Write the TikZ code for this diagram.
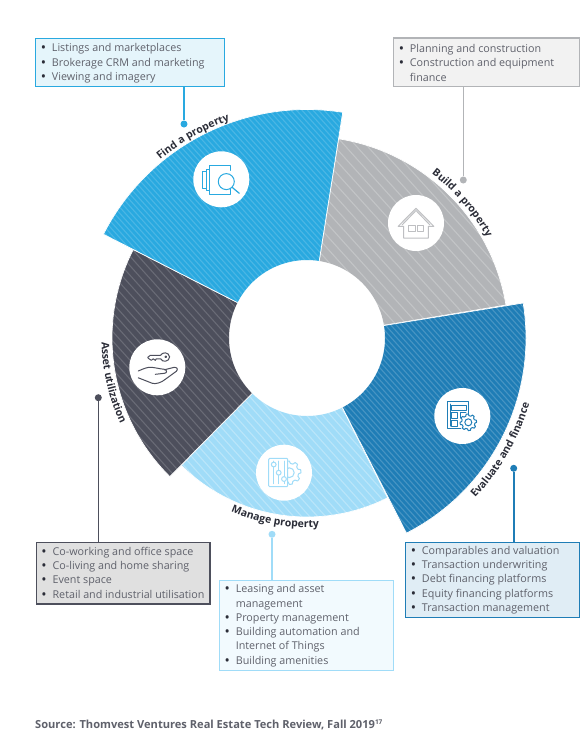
\documentclass[tikz,border=0pt]{standalone}
\usepackage{fontspec}
\setmainfont{Open Sans}
\usetikzlibrary{decorations.text}
\definecolor{cfind}{HTML}{29A9E0}
\definecolor{cbuild}{HTML}{B2B4B7}
\definecolor{ceval}{HTML}{1F7DB6}
\definecolor{cmanage}{HTML}{A0DCF8}
\definecolor{casset}{HTML}{4D4F5C}
\definecolor{ctext}{HTML}{5F616B}
\definecolor{clabel}{HTML}{2B2D38}
\newcommand{\ringsector}[6]{%
  \begin{scope}[shift={(307,-338)}]
    \begin{scope}
      \clip (#2:78pt) -- (#2:#4pt) arc[start angle=#2,end angle=#3,radius=#4pt] -- (#3:78pt) arc[start angle=#3,end angle=#2,radius=78pt] -- cycle;
      \fill[#1] (-300,-300) rectangle (300,300);
      \pgfmathsetmacro{\stripenext}{-620+#5}
      \foreach \t in {-620,\stripenext,...,620} {\draw[white,opacity=#6,line width=1.1pt] (\t,300) -- ++(540,-600);}
    \end{scope}
    \draw[white,line width=.7pt] (#2:78pt) -- (#2:#4pt) arc[start angle=#2,end angle=#3,radius=#4pt] -- (#3:78pt);
  \end{scope}}
\newcommand{\curvedlabel}[4]{% radius, start, end, text
  \path[decorate,decoration={text along path,text align=center,text={|\fontsize{10.5}{12}\bfseries\color{clabel}|#4}}]
    (307,-338) ++(#2:#1pt) arc[start angle=#2,end angle=#3,radius=#1pt];}
\newcommand{\gearicon}[3]{% x, y, radius
  \begin{scope}[shift={(#1,#2)},scale=#3]
    \draw plot[smooth cycle,tension=.15] coordinates {
      (0:1) (15:1) (22:.8) (38:.8) (45:1) (60:1) (67:.8) (83:.8) (90:1) (105:1) (112:.8) (128:.8)
      (135:1) (150:1) (157:.8) (173:.8) (180:1) (195:1) (202:.8) (218:.8) (225:1) (240:1) (247:.8) (263:.8)
      (270:1) (285:1) (292:.8) (308:.8) (315:1) (330:1) (337:.8) (353:.8)};
    \draw (0,0) circle (.42);
  \end{scope}}
\tikzset{
  boxstyle/.style={draw=#1,line width=1.4pt,anchor=north west,align=left,inner sep=0pt,text=ctext,
    font=\fontsize{10.75}{14.25}\selectfont},
  dotstyle/.style={circle,fill=#1,inner sep=0pt,minimum size=7pt},
  linkstyle/.style={draw=#1,line width=1.6pt},
  discstyle/.style={circle,fill=white,inner sep=0pt,minimum size=56pt},
  iconstyle/.style={draw=#1,line width=1pt,line join=round,line cap=round},
}
\newcommand{\bl}[1]{\makebox[9.6pt][l]{\hspace{-1.6pt}\raisebox{-1pt}{\fontsize{14}{14}\selectfont\textcolor{clabel}{•}}}#1}
\newcommand{\nl}[1]{\makebox[9.6pt]{}#1}
\begin{document}
\begin{tikzpicture}[x=1pt,y=1pt]
\useasboundingbox (0,0) rectangle (582,-737);
\fill[white] (0,0) rectangle (582,-737);
% sectors
\ringsector{cbuild}{9.4}{81}{201.7}{11}{.22}
\ringsector{cmanage}{225.3}{296.8}{179}{8}{.28}
\ringsector{casset}{153}{225.3}{195}{8.5}{.16}
\ringsector{cfind}{81}{153}{228.5}{5.5}{.16}
\ringsector{ceval}{-63}{9.2}{219}{5.5}{.18}
% discs
\node[discstyle] (dfind) at (221.3,-179.3) {};
\node[discstyle] (dbuild) at (416,-223) {};
\node[discstyle] (deval) at (462.3,-416) {};
\node[discstyle] (dmanage) at (284,-472.7) {};
\node[discstyle] (dasset) at (157.3,-367.3) {};
% icon: find
\begin{scope}[shift={(dfind.center)},iconstyle=cfind]
  \draw (-5,-14.7) -- (-12,-14.7) -- (-12,14.3) -- (9.3,14.3) -- (9.3,9);
  \draw (-5.5,-14.7) -- (9.3,-14.7) -- (9.3,-0);
  \draw (-12,-11) -- (-15,-11) -- (-15,10) -- (-12,10);
  \draw (-15,-9) -- (-18.5,-9) -- (-18.5,8) -- (-15,8);
  \draw[fill=white] (5,-2.3) circle (8);
  \draw[line width=1.2pt] (10.8,-8) -- (18,-14);
\end{scope}
% icon: build
\begin{scope}[shift={(dbuild.center)},iconstyle=cbuild!85!white]
  \draw (-12.3,-3.3) -- (-17.8,-3.3) -- (0,14.7) -- (17.8,-3.3) -- (12.3,-3.3) -- (12.3,-15) -- (-12.3,-15) -- cycle;
  \draw (-14,-2) -- (0,12.5) -- (14,-2);
  \draw (-7.7,-2.3) rectangle (-1,-8);
  \draw (1.7,-2.3) rectangle (7.7,-8);
\end{scope}
% icon: evaluate
\begin{scope}[shift={(deval.center)},iconstyle=ceval]
  \draw (6,1) -- (6,14.3) -- (-14.7,14.3) -- (-14.7,-12.3) -- (-1.5,-12.3);
  \draw (-12.2,12) -- (-12.2,-10);
  \draw (-11.3,10.7) rectangle (4.3,6);
  \draw (-11,3.3) rectangle (-5,-2);
  \draw (-11,-4.3) rectangle (-5,-10.3);
  \draw (-2,-2) -- (-2,3.3) -- (3.5,3.3);
  \gearicon{6}{-6.3}{8.3}
\end{scope}
% icon: manage
\begin{scope}[shift={(dmanage.center)},iconstyle=cmanage]
  \gearicon{5.3}{0}{11.7}
  \fill[white] (-15.3,-14) rectangle (3.7,14.3);
  \draw[rounded corners=1pt] (-15.3,-14) rectangle (3.7,14.3);
  \draw (-10.3,11.5) -- (-10.3,-11);
  \draw (-5.3,11.5) -- (-5.3,-11);
  \draw (0,11.5) -- (0,-11);
  \draw[fill=white] (-10.3,8.2) circle (2.4);
  \draw[fill=white] (-5.3,0) circle (2.4);
  \draw[fill=white] (0,-6.3) circle (2.4);
\end{scope}
% icon: asset
\begin{scope}[shift={(dasset.center)},iconstyle=casset]
  \draw (3.3,12) .. controls (5,15.5) and (11.5,15.5) .. (12.3,10.5) .. controls (12.3,5.5) and (5,4.5) .. (3.3,8.5) -- (-1,8.5) -- (-2,7) -- (-4,8.5) -- (-6,7) -- (-9,9) -- (-9.5,10) -- (-7,12) -- cycle;
  \draw (8.5,10.5) circle (.8);
  \draw (-19,-3.7) .. controls (-13,-1) and (-10,0) .. (-7,0) .. controls (-3,0) and (2,-1.5) .. (7,-2) .. controls (10,-2.5) and (10,-6) .. (7,-6) -- (-2,-7);
  \draw (7,-2.5) -- (17,0) .. controls (20,0) and (21,-2) .. (19,-4) -- (8,-12) .. controls (4,-15.5) and (-2,-17) .. (-5,-16) -- (-19,-10.5);
\end{scope}
% curved labels
\curvedlabel{231}{133}{106}{Find a property}
\curvedlabel{206}{56}{26}{Build a property}
\curvedlabel{232}{-48}{-12}{Evaluate and finance}
\curvedlabel{189.5}{-120}{-80}{Manage property}
\curvedlabel{205.5}{177}{209}{Asset utilization}
% boxes
\node[boxstyle=cfind,fill=cfind!12!white,minimum width=189pt,minimum height=47.7pt] (bfind) at (35,-38) {\hspace{5.3pt}\parbox{181pt}{\raggedright\vspace*{1.5pt}
  \bl{Listings and marketplaces}\\\bl{Brokerage CRM and marketing}\\\bl{Viewing and imagery}}};
\node[boxstyle=cbuild,fill=black!5!white,minimum width=186pt,minimum height=48.4pt] (bbuild) at (393,-37.3) {\hspace{5.3pt}\parbox{178pt}{\raggedright\vspace*{1.5pt}
  \bl{Planning and construction}\\\bl{Construction and equipment}\\\nl{finance}}};
\node[boxstyle=ceval,fill=ceval!14!white,minimum width=174pt,minimum height=75.3pt] (beval) at (405,-541.7) {\hspace{5.3pt}\parbox{166pt}{\raggedright
  \bl{Comparables and valuation}\\\bl{Transaction underwriting}\\\bl{Debt financing platforms}\\\bl{Equity financing platforms}\\\bl{Transaction management}}};
\node[boxstyle=cmanage,fill=cmanage!14!white,minimum width=173.7pt,minimum height=90pt] (bmanage) at (219,-580) {\hspace{5.3pt}\parbox{166pt}{\raggedright
  \bl{Leasing and asset}\\\nl{management}\\\bl{Property management}\\\bl{Building automation and}\\\nl{Internet of Things}\\\bl{Building amenities}}};
\node[boxstyle=casset,fill=black!12!white,minimum width=173.3pt,minimum height=61.6pt] (basset) at (36,-541.7) {\hspace{5.3pt}\parbox{166pt}{\raggedright
  \bl{Co-working and office space}\\\bl{Co-living and home sharing}\\\bl{Event space}\\\bl{Retail and industrial utilisation}}};
% dots
\node[dotstyle=cfind] (pfind) at (184,-124) {};
\node[dotstyle=cbuild] (pbuild) at (463.3,-180) {};
\node[dotstyle=ceval] (peval) at (513.7,-468.3) {};
\node[dotstyle=cmanage] (pmanage) at (272,-534.3) {};
\node[dotstyle=casset] (passet) at (98.3,-397.7) {};
% connectors
\draw[linkstyle=cfind] (pfind) -- (pfind |- bfind.south);
\draw[linkstyle=cbuild] (pbuild) -- (pbuild |- bbuild.south);
\draw[linkstyle=ceval] (peval) -- (peval |- beval.north);
\draw[linkstyle=cmanage] (pmanage) -- (pmanage |- bmanage.north);
\draw[linkstyle=casset] (passet) -- (passet |- basset.north);
% source
\node[anchor=base west,inner sep=0pt,text=ctext,font=\fontsize{11.1}{13}\bfseries\selectfont] (src) at (35,-728) {Source: Thomvest Ventures Real Estate Tech Review, Fall 2019\raisebox{3.8pt}{\fontsize{6.5}{7}\selectfont 17}};
\end{tikzpicture}
\end{document}
